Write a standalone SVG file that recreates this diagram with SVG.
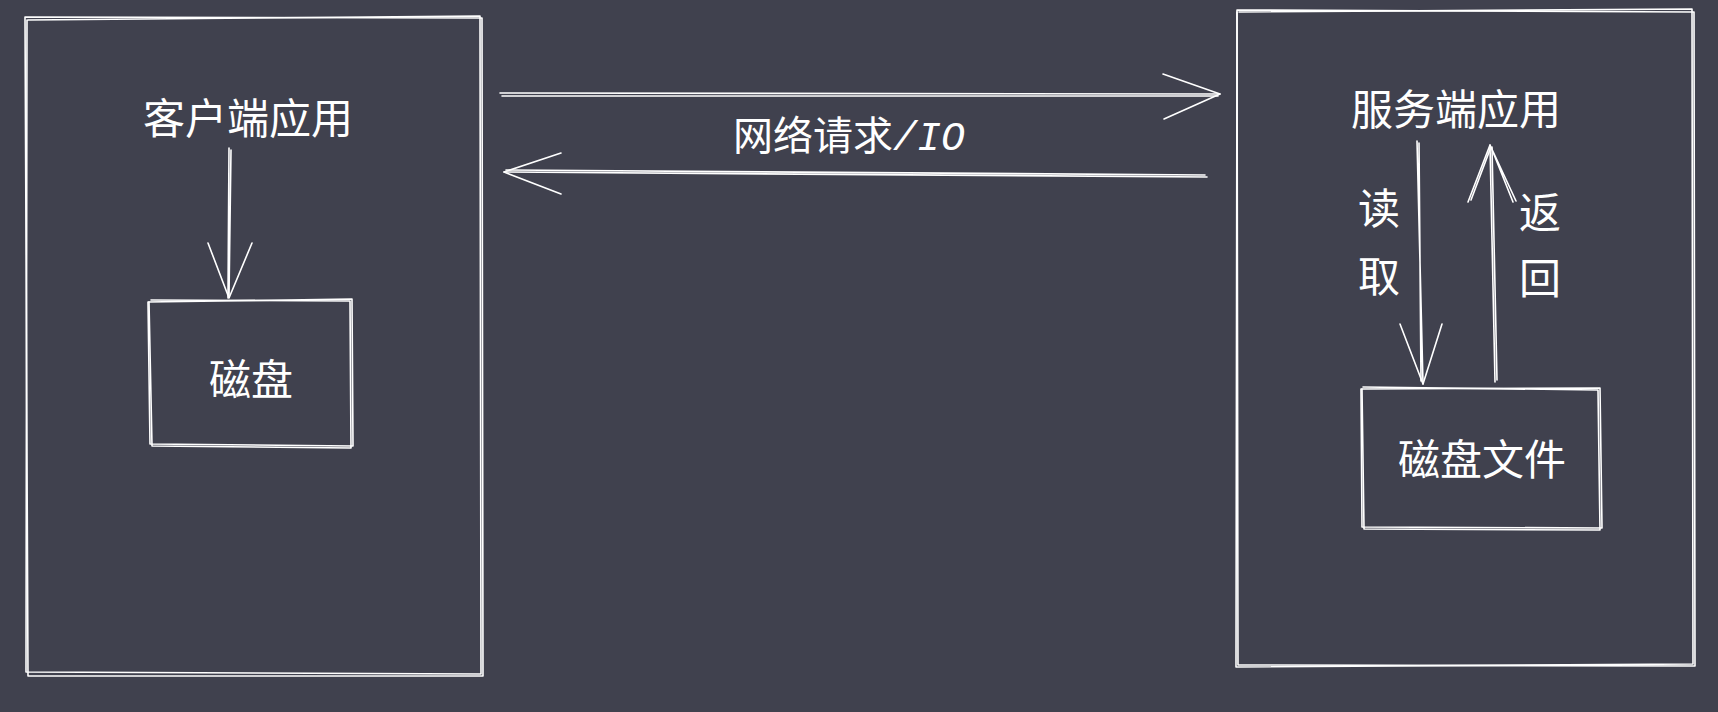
<svg xmlns="http://www.w3.org/2000/svg" width="1718" height="712" viewBox="0 0 1718 712">
<style>
.s{fill:none;stroke:#ffffff;stroke-width:1.6;stroke-linecap:round;stroke-linejoin:round}
.t{fill:#ffffff;font-family:"Noto Sans CJK SC","Noto Sans",sans-serif;font-size:42px;text-anchor:middle}
.h{font-family:"Liberation Mono",monospace;font-style:italic}
</style>
<rect width="1718" height="712" fill="#40414e"/>
<g id="client">
<path class="s" d="M25 17 L482 18 L483 676 L28 676 Z"/>
<path class="s" d="M28 20 L480 16 L481 674 L26 672 L27 20"/>
<text class="t" x="248" y="134">客户端应用</text>
</g>
<g id="client-disk">
<path class="s" d="M148 302 L352 299 L353 446 L150 444 Z"/>
<path class="s" d="M151 300 L350 301 L351 448 L152 446 L149 302"/>
<text class="t" x="251" y="395">磁盘</text>
</g>
<g id="server">
<path class="s" d="M1237 10 L1694 12 L1695 666 L1238 665 Z"/>
<path class="s" d="M1239 12 L1692 9 L1693 664 L1236 667 L1237 12"/>
<text class="t" x="1456" y="125">服务端应用</text>
<text class="t" x="1379" y="224">读</text>
<text class="t" x="1379" y="292">取</text>
<text class="t" x="1540" y="228">返</text>
<text class="t" x="1540" y="294">回</text>
</g>
<g id="server-disk">
<path class="s" d="M1361 389 L1600 388 L1602 528 L1362 527 Z"/>
<path class="s" d="M1363 387 L1598 390 L1600 530 L1364 529 L1362 389"/>
<text class="t" x="1482" y="475">磁盘文件</text>
</g>
<g id="connectors">
<path class="s" d="M229 148 L228 298 M231 150 L229 296"/>
<path class="s" d="M208 243 L229 298 L252 243"/>
<path class="s" d="M500 93 L1220 94 M502 96 L1218 96"/>
<path class="s" d="M1163 74 L1220 94 L1164 119"/>
<path class="s" d="M1207 177 L504 172 M1205 175 L506 170"/>
<path class="s" d="M561 153 L504 172 L561 194"/>
<path class="s" d="M1417 141 L1423 384 M1419 143 L1421 381"/>
<path class="s" d="M1400 324 L1423 384 L1442 324"/>
<path class="s" d="M1495 382 L1490 145 M1497 380 L1492 147"/>
<path class="s" d="M1468 202 L1490 145 L1516 201 M1471 200 L1491 147 L1513 202"/>
<text class="t" x="849" y="150" style="font-size:40px">网络请求<tspan class="h">/IO</tspan></text>
</g>
</svg>
